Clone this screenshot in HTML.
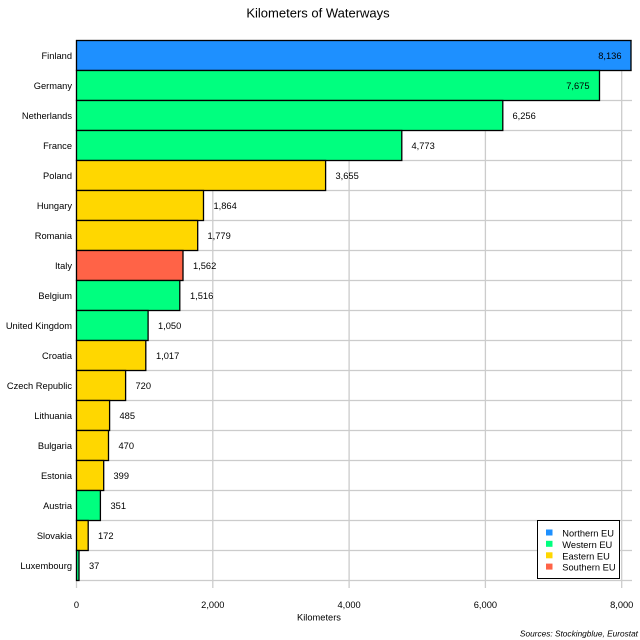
<!DOCTYPE html>
<html><head><meta charset="utf-8"><style>
html,body{margin:0;padding:0;background:#fff;}
svg{display:block;font-family:"Liberation Sans",Arial,sans-serif;}
</style></head><body>
<svg width="640" height="640" viewBox="0 0 640 640" xmlns="http://www.w3.org/2000/svg">
<rect width="640" height="640" fill="#fff"/>
<text x="318" y="17.5" font-size="13" text-anchor="middle" fill="#000">Kilometers of Waterways</text>
<g stroke="#cccccc" stroke-width="1.3" fill="none">
<line x1="76.5" y1="40" x2="76.5" y2="588"/>
<line x1="212.8" y1="40" x2="212.8" y2="588"/>
<line x1="349.1" y1="40" x2="349.1" y2="588"/>
<line x1="485.4" y1="40" x2="485.4" y2="588"/>
<line x1="621.7" y1="40" x2="621.7" y2="588"/>
<line x1="76" y1="40.5" x2="632" y2="40.5"/>
<line x1="76" y1="70.5" x2="632" y2="70.5"/>
<line x1="76" y1="100.5" x2="632" y2="100.5"/>
<line x1="76" y1="130.5" x2="632" y2="130.5"/>
<line x1="76" y1="160.5" x2="632" y2="160.5"/>
<line x1="76" y1="190.5" x2="632" y2="190.5"/>
<line x1="76" y1="220.5" x2="632" y2="220.5"/>
<line x1="76" y1="250.5" x2="632" y2="250.5"/>
<line x1="76" y1="280.5" x2="632" y2="280.5"/>
<line x1="76" y1="310.5" x2="632" y2="310.5"/>
<line x1="76" y1="340.5" x2="632" y2="340.5"/>
<line x1="76" y1="370.5" x2="632" y2="370.5"/>
<line x1="76" y1="400.5" x2="632" y2="400.5"/>
<line x1="76" y1="430.5" x2="632" y2="430.5"/>
<line x1="76" y1="460.5" x2="632" y2="460.5"/>
<line x1="76" y1="490.5" x2="632" y2="490.5"/>
<line x1="76" y1="520.5" x2="632" y2="520.5"/>
<line x1="76" y1="550.5" x2="632" y2="550.5"/>
<line x1="76" y1="580.5" x2="632" y2="580.5"/>
</g>
<g stroke="#000" stroke-width="1.3">
<rect x="76.5" y="40.5" width="554.5" height="30" fill="#1e90ff"/>
<rect x="76.5" y="70.5" width="523.0" height="30" fill="#00ff7f"/>
<rect x="76.5" y="100.5" width="426.3" height="30" fill="#00ff7f"/>
<rect x="76.5" y="130.5" width="325.3" height="30" fill="#00ff7f"/>
<rect x="76.5" y="160.5" width="249.1" height="30" fill="#ffd700"/>
<rect x="76.5" y="190.5" width="127.0" height="30" fill="#ffd700"/>
<rect x="76.5" y="220.5" width="121.2" height="30" fill="#ffd700"/>
<rect x="76.5" y="250.5" width="106.5" height="30" fill="#ff6347"/>
<rect x="76.5" y="280.5" width="103.3" height="30" fill="#00ff7f"/>
<rect x="76.5" y="310.5" width="71.6" height="30" fill="#00ff7f"/>
<rect x="76.5" y="340.5" width="69.3" height="30" fill="#ffd700"/>
<rect x="76.5" y="370.5" width="49.1" height="30" fill="#ffd700"/>
<rect x="76.5" y="400.5" width="33.1" height="30" fill="#ffd700"/>
<rect x="76.5" y="430.5" width="32.0" height="30" fill="#ffd700"/>
<rect x="76.5" y="460.5" width="27.2" height="30" fill="#ffd700"/>
<rect x="76.5" y="490.5" width="23.9" height="30" fill="#00ff7f"/>
<rect x="76.5" y="520.5" width="11.7" height="30" fill="#ffd700"/>
<rect x="76.5" y="550.5" width="2.5" height="30" fill="#00ff7f"/>
</g>
<g font-size="9.3" fill="#000" text-anchor="end">
<text x="72" y="59">Finland</text>
<text x="72" y="89">Germany</text>
<text x="72" y="119">Netherlands</text>
<text x="72" y="149">France</text>
<text x="72" y="179">Poland</text>
<text x="72" y="209">Hungary</text>
<text x="72" y="239">Romania</text>
<text x="72" y="269">Italy</text>
<text x="72" y="299">Belgium</text>
<text x="72" y="329">United Kingdom</text>
<text x="72" y="359">Croatia</text>
<text x="72" y="389">Czech Republic</text>
<text x="72" y="419">Lithuania</text>
<text x="72" y="449">Bulgaria</text>
<text x="72" y="479">Estonia</text>
<text x="72" y="509">Austria</text>
<text x="72" y="539">Slovakia</text>
<text x="72" y="569">Luxembourg</text>
<text x="621.5" y="59">8,136</text>
<text x="589.5" y="89">7,675</text>
</g>
<g font-size="9.3" fill="#000">
<text x="512.5" y="119">6,256</text>
<text x="411.5" y="149">4,773</text>
<text x="335.5" y="179">3,655</text>
<text x="213.5" y="209">1,864</text>
<text x="207.5" y="239">1,779</text>
<text x="193" y="269">1,562</text>
<text x="190" y="299">1,516</text>
<text x="158" y="329">1,050</text>
<text x="156" y="359">1,017</text>
<text x="135.5" y="389">720</text>
<text x="119.5" y="419">485</text>
<text x="118.5" y="449">470</text>
<text x="113.5" y="479">399</text>
<text x="110.5" y="509">351</text>
<text x="98" y="539">172</text>
<text x="89" y="569">37</text>
</g>
<g font-size="9.3" fill="#000" text-anchor="middle">
<text x="76.5" y="608">0</text>
<text x="212.8" y="608">2,000</text>
<text x="349.1" y="608">4,000</text>
<text x="485.4" y="608">6,000</text>
<text x="621.7" y="608">8,000</text>
<text x="319" y="620.5">Kilometers</text>
</g>
<text x="638" y="636.5" font-size="8.3" font-style="italic" text-anchor="end" fill="#000">Sources: Stockingblue, Eurostat</text>
<rect x="537.5" y="520.5" width="82" height="58" fill="#fff" stroke="#000" stroke-width="1"/>
<rect x="546" y="529.5" width="6.5" height="6" fill="#1e90ff"/>
<rect x="546" y="540.8" width="6.5" height="6" fill="#00ff7f"/>
<rect x="546" y="552.3" width="6.5" height="6" fill="#ffd700"/>
<rect x="546" y="563.6" width="6.5" height="6" fill="#ff6347"/>
<g font-size="9.3" fill="#000">
<text x="562.3" y="536.6">Northern EU</text>
<text x="562.3" y="547.9">Western EU</text>
<text x="562.3" y="559.4">Eastern EU</text>
<text x="562.3" y="570.7">Southern EU</text>
</g>
</svg>
</body></html>
